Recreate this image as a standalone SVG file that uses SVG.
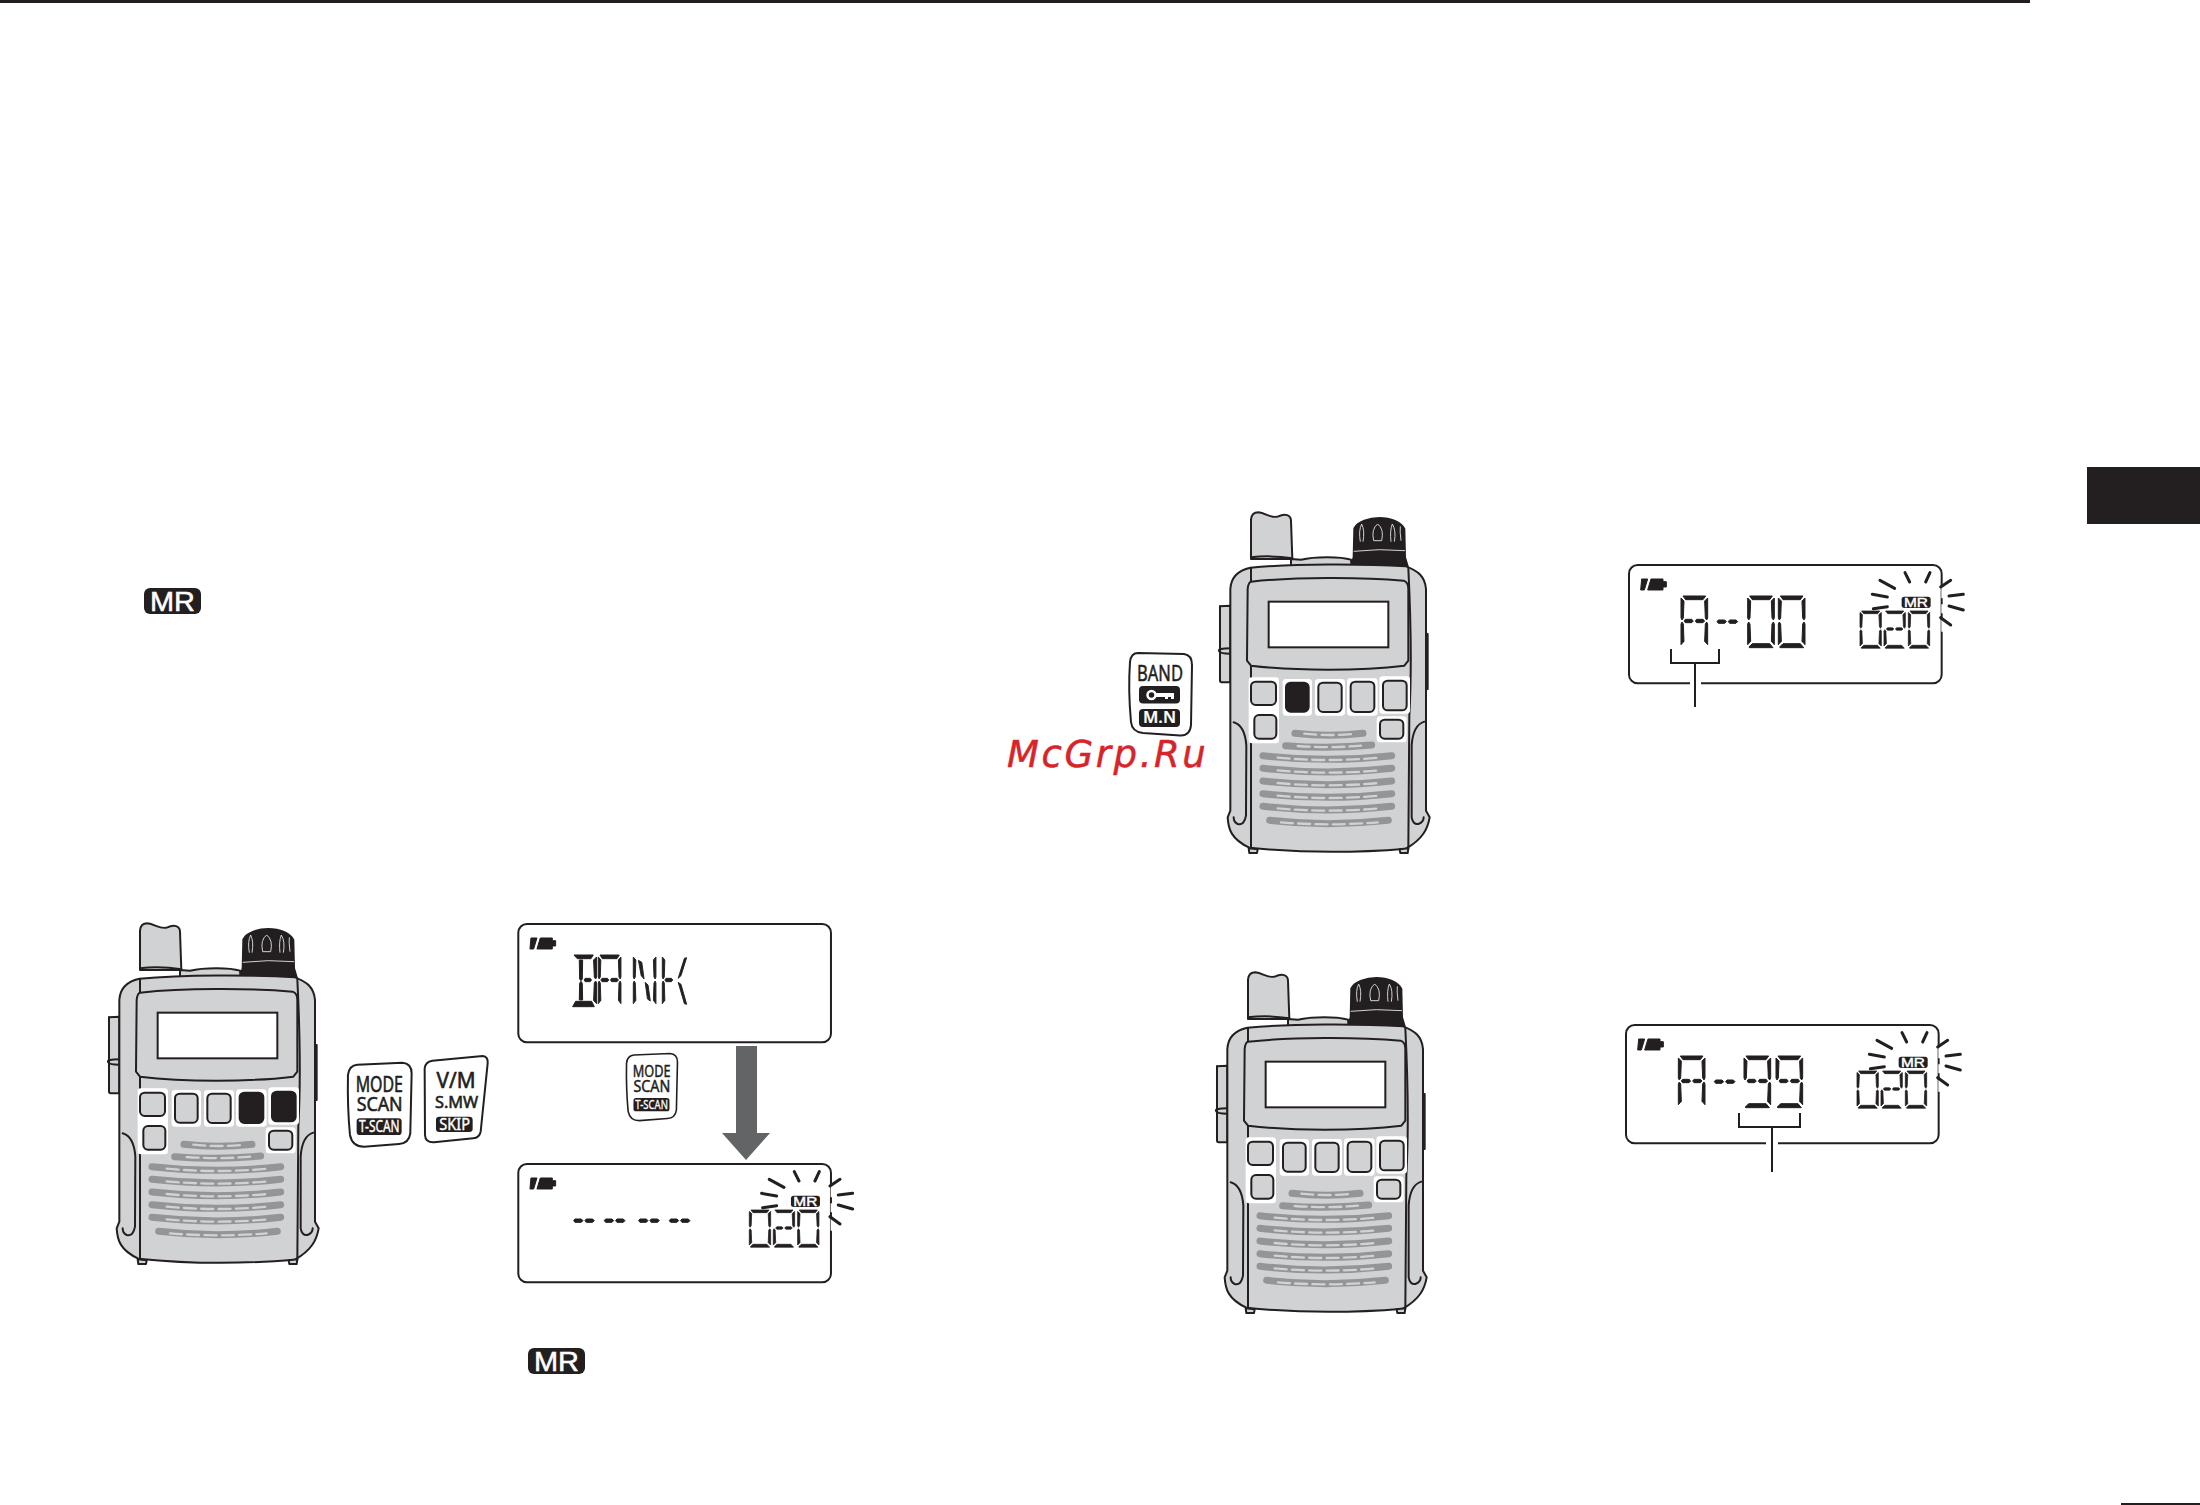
<svg xmlns="http://www.w3.org/2000/svg" xmlns:xlink="http://www.w3.org/1999/xlink" width="2200" height="1505" viewBox="0 0 2200 1505">
<style>
.ln{stroke:#231f20;stroke-width:6;stroke-linejoin:round;stroke-linecap:round}
.bd{fill:#d1d2d4}
.no{fill:none}
.btn{fill:#d1d2d4;stroke:#231f20;stroke-width:6}
.dk{fill:#231f20;stroke:#231f20;stroke-width:6}
.hl{fill:#fff}
.gr1{fill:none;stroke:#939598;stroke-width:21;stroke-linecap:round}
.gr2{fill:none;stroke:#d1d2d4;stroke-width:7;stroke-dasharray:36 16;stroke-linecap:round}
.seg{fill:#231f20;stroke:#231f20;stroke-width:3;stroke-linejoin:round}
.ray{stroke:#231f20;stroke-width:9;stroke-linecap:round;fill:none}
.rayw{stroke:#fff;stroke-width:22;stroke-linecap:butt;fill:none}
.k{font-family:"Noto Sans","Open Sans",sans-serif;fill:#231f20;text-anchor:middle;stroke:#231f20;stroke-width:1.8}
.kw{font-family:"Noto Sans","Open Sans",sans-serif;fill:#fff;text-anchor:middle;stroke:#fff;stroke-width:1.2}
.mr{font-family:"Liberation Sans",Arial,sans-serif;fill:#fff;text-anchor:middle;stroke:#fff;stroke-width:1.2}
.wire{stroke:#231f20;stroke-width:2;fill:none}
</style>
<defs>
<g id="radio-body">
<path class="bd ln" d="M57,352 L88,350 L88,580 L62,580 Q57,580 57,574Z"/>
<path class="no ln" d="M88,478 Q50,478 54,486 Q56,494 88,494 M57,478 L57,352 M57,494 L57,574"/>
<path class="ln" fill="#231f20" d="M676,435 L680,435 L680,600 L676,600Z"/>
<path class="bd ln" d="M150,92 Q152,70 172,70 C195,72 212,90 232,82 C252,72 270,78 270,95 L274,210 L150,210Z"/>
<path class="no ln" d="M150,205 Q210,198 274,208"/>
<path class="bd ln" d="M270,210 L300,212 C340,202 420,202 450,212 L452,232 L270,232Z"/>
<path class="dk" d="M460,118 C470,98 505,87 535,87 C570,87 600,100 610,120 L612,205 L620,232 L450,230 L458,205Z"/>
<path fill="none" stroke="#d1d2d4" stroke-width="3" d="M458,187 Q535,178 612,185 M478,158 Q472,125 482,105 Q492,125 486,158 M518,155 Q510,120 530,105 Q550,120 542,155Z M570,158 Q566,125 574,105 Q586,125 580,158 M600,155 Q596,125 598,112"/>
<path class="bd ln" d="M148,236 C112,244 90,265 88,300 L88,965 L80,985 C82,1020 90,1050 145,1076 C300,1092 460,1092 615,1079 C665,1050 680,1020 686,985 L675,965 L675,300 C672,262 650,245 615,232 C480,224 280,224 148,236Z"/>
<path class="no ln" d="M150,238 L150,1076 M622,238 Q635,500 625,680 L622,1078"/>
<path class="bd ln" d="M150,278 C280,264 480,264 608,275 Q622,280 622,300 L622,515 L610,530 C480,546 280,546 150,530 L138,515 L140,300 Q142,280 150,278Z"/>
<rect x="203" y="338" width="359" height="137" fill="#fff" stroke="#231f20" stroke-width="6"/>
<path class="no ln" d="M98,700 Q132,710 136,770 L135,980 Q130,1010 110,1005 Q98,1000 98,985 M670,698 Q636,708 632,770 L632,985 Q636,1008 652,1005 Q668,1000 668,985"/>
<rect class="hl" x="143" y="565" width="91" height="198" rx="10"/>
<rect class="hl" x="245" y="570" width="88" height="110" rx="10"/>
<rect class="hl" x="342" y="570" width="90" height="110" rx="10"/>
<rect class="hl" x="438" y="568" width="92" height="112" rx="10"/>
<rect class="hl" x="535" y="562" width="92" height="112" rx="10"/>
<rect class="hl" x="527" y="682" width="90" height="78" rx="10"/>
<path class="gr1" d="M282,733 Q384,745 486,733"/><path class="gr2" d="M310,734 Q384,742 462,734"/>
<path class="gr1" d="M254,770 Q384,780 512,768"/><path class="gr2" d="M290,771 Q384,778 480,770"/>
<path class="gr1" d="M186,800 Q380,822 572,800"/><path class="gr2" d="M230,806 Q380,820 535,806"/>
<path class="gr1" d="M186,838 Q380,860 572,838"/><path class="gr2" d="M230,844 Q380,858 535,844"/>
<path class="gr1" d="M186,876 Q380,898 572,876"/><path class="gr2" d="M230,882 Q380,896 535,882"/>
<path class="gr1" d="M186,914 Q380,936 572,914"/><path class="gr2" d="M230,920 Q380,934 535,920"/>
<path class="gr1" d="M186,952 Q380,974 572,952"/><path class="gr2" d="M230,958 Q380,972 535,958"/>
<path class="gr1" d="M206,994 Q380,1014 562,994"/><path class="gr2" d="M240,1000 Q380,1012 530,1000"/>
<path class="bd ln" d="M143,1078 L170,1081 L168,1092 L145,1092Z M596,1081 L622,1078 L620,1092 L598,1092Z"/>
</g>
<rect id="b1" x="150" y="578" width="75" height="70" rx="14"/>
<rect id="b2" x="255" y="581" width="68" height="87" rx="14"/>
<rect id="b3" x="352" y="581" width="70" height="88" rx="14"/>
<rect id="b4" x="449" y="578" width="71" height="91" rx="14"/>
<rect id="b5" x="546" y="575" width="71" height="89" rx="14"/>
<rect id="b6" x="160" y="678" width="66" height="71" rx="14"/>
<rect id="b7" x="537" y="692" width="70" height="57" rx="14"/>

<g id="key-mode">
<path fill="#fff" stroke="#231f20" stroke-width="6" d="M30,4 L165,-2 Q193,0 193,30 L189,210 Q185,240 155,242 L50,250 Q15,250 8,215 Q0,130 2,35 Q5,6 30,4Z"/>
<text class="k" x="96" y="85" font-size="63" textLength="142" lengthAdjust="spacingAndGlyphs">MODE</text>
<text class="k" x="97" y="143" font-size="60" textLength="138" lengthAdjust="spacingAndGlyphs">SCAN</text>
<rect x="28" y="165" width="135" height="50" rx="10" fill="#231f20"/>
<text class="kw" x="96" y="205" font-size="50" textLength="122" lengthAdjust="spacingAndGlyphs">T-SCAN</text>
</g>

<path id="s-a" d="M6,0 L74,0 L66,11 L14,11Z"/>
<path id="s-d" d="M14,143 L66,143 L76,155 L5,155 L4,153Z"/>
<path id="s-f" d="M0,6 L9,15 L7,66 L3,72 L0,66Z"/>
<path id="s-b" d="M80,6 L71,15 L73,66 L77,72 L80,66Z"/>
<path id="s-e" d="M0,84 L3,78 L7,84 L9,136 L0,146Z"/>
<path id="s-c" d="M80,84 L77,78 L73,84 L71,136 L80,146Z"/>
<path id="s-g1" d="M9,75 L13,70 L32,70 L37,75 L32,80 L13,80Z"/>
<path id="s-g2" d="M43,75 L47,70 L66,70 L71,75 L66,80 L47,80Z"/>
<g id="d0" class="seg"><use href="#s-a"/><use href="#s-b"/><use href="#s-c"/><use href="#s-d"/><use href="#s-e"/><use href="#s-f"/></g>
<g id="dA" class="seg"><use href="#s-a"/><use href="#s-b"/><use href="#s-c"/><use href="#s-e"/><use href="#s-f"/><use href="#s-g1"/><use href="#s-g2"/></g>
<g id="d9" class="seg"><use href="#s-a"/><use href="#s-b"/><use href="#s-c"/><use href="#s-d"/><use href="#s-f"/><use href="#s-g1"/><use href="#s-g2"/></g>
<g id="d2" class="seg"><use href="#s-a"/><use href="#s-b"/><use href="#s-d"/><use href="#s-e"/><use href="#s-g1"/><use href="#s-g2"/></g>
<g id="dd" class="seg"><use href="#s-g1"/><use href="#s-g2"/></g>

<g id="panel">
<rect x="0" y="0" width="938" height="355" rx="26" fill="#fff" stroke="#231f20" stroke-width="6"/>
<path class="seg" d="M38,42 L56,42 L46,75 L35,75Z M66,42 L102,42 L102,50 L112,50 L112,66 L102,66 L102,75 L56,75Z"/>
</g>
<g id="blink">
<path class="rayw" d="M948,60 L948,100 M948,118 L948,145 M948,160 L948,200"/>
<g class="ray"><path d="M730,88 L775,96 M733,131 L775,125 M753,46 L797,70 M828,23 L842,51 M903,23 L890,51 M935,66 L965,46 M960,93 L1003,88 M960,123 L1003,135 M935,158 L965,180"/></g>
<rect x="818" y="95" width="87" height="34" rx="8" fill="#231f20"/>
<text class="mr" x="861" y="125" font-size="36" textLength="72" lengthAdjust="spacingAndGlyphs">MR</text>
<use href="#d0" transform="translate(693,138) scale(.8,.72)"/>
<use href="#d2" transform="translate(765,138) scale(.8,.72)"/>
<use href="#d0" transform="translate(838,138) scale(.8,.72)"/>
</g>
</defs>

<rect width="2200" height="1505" fill="#fff"/>
<rect id="top-rule" x="0" y="0" width="2030" height="3" fill="#231f20"/>
<rect id="side-tab" x="2087" y="467" width="113" height="57" fill="#231f20"/>
<rect id="bottom-rule" x="2121" y="1503" width="79" height="2" fill="#231f20"/>

<g id="mr-badge-1"><rect x="144" y="588" width="57" height="26" rx="6" fill="#231f20"/><text class="mr" x="172.500" y="611" font-size="27" textLength="45" lengthAdjust="spacingAndGlyphs" style="stroke-width:.5">MR</text></g>
<g id="mr-badge-2"><rect x="528" y="1348" width="57" height="26" rx="6" fill="#231f20"/><text class="mr" x="556.500" y="1371" font-size="27" textLength="45" lengthAdjust="spacingAndGlyphs" style="stroke-width:.5">MR</text></g>

<g id="radio-1" transform="translate(90,900) scale(.33333)">
<use href="#radio-body"/>
<use href="#b1" class="btn"/><use href="#b2" class="btn"/><use href="#b3" class="btn"/><use href="#b4" class="dk"/><use href="#b5" class="dk"/><use href="#b6" class="btn"/><use href="#b7" class="btn"/>
</g>
<g id="radio-2" transform="translate(1201,489) scale(.33333)">
<use href="#radio-body"/>
<use href="#b1" class="btn"/><use href="#b2" class="dk"/><use href="#b3" class="btn"/><use href="#b4" class="btn"/><use href="#b5" class="btn"/><use href="#b6" class="btn"/><use href="#b7" class="btn"/>
</g>
<g id="radio-3" transform="translate(1198,949) scale(.33333)">
<use href="#radio-body"/>
<use href="#b1" class="btn"/><use href="#b2" class="btn"/><use href="#b3" class="btn"/><use href="#b4" class="btn"/><use href="#b5" class="btn"/><use href="#b6" class="btn"/><use href="#b7" class="btn"/>
</g>

<g id="key-mode-1" transform="translate(347.300,1063.300) scale(.33333)"><use href="#key-mode"/></g>
<g id="key-vm" transform="translate(90,900) scale(.33333)">
<path fill="#fff" stroke="#231f20" stroke-width="6" d="M1027,482 L1178,468 Q1195,470 1193,490 L1172,695 Q1168,713 1150,715 L1032,727 Q1006,728 1005,705 L1004,505 Q1006,485 1027,482Z"/>
<text class="k" x="1098" y="565" font-size="63" textLength="117" lengthAdjust="spacingAndGlyphs">V/M</text>
<text class="k" x="1100" y="625" font-size="50" textLength="130" lengthAdjust="spacingAndGlyphs">S.MW</text>
<rect x="1038" y="650" width="110" height="46" rx="10" fill="#231f20"/>
<text class="kw" x="1094" y="689" font-size="48" textLength="92" lengthAdjust="spacingAndGlyphs">SKIP</text>
</g>
<g id="key-mode-2" transform="translate(626,1054) scale(.26667)"><use href="#key-mode"/></g>

<g id="key-band">
<path fill="#fff" stroke="#231f20" stroke-width="2" d="M1138,653 L1184,654 Q1192,655 1192,665 L1191,725 Q1190,736 1180,735.500 L1143,733 Q1132,732 1131,722 Q1128,690 1130,662 Q1131,653 1138,653Z"/>
<text class="k" x="1160" y="680.500" font-size="21" textLength="46" lengthAdjust="spacingAndGlyphs" style="stroke-width:.5">BAND</text>
<rect x="1139" y="686" width="41" height="17.500" rx="4" fill="#231f20"/>
<circle cx="1151.500" cy="695" r="4" fill="none" stroke="#fff" stroke-width="2.500"/>
<path fill="#fff" d="M1155,693 L1174,693 L1174,699 L1171,699 L1171,697 L1168,697 L1168,699 L1165,699 L1165,697 L1155,697Z"/>
<rect x="1139" y="709" width="41" height="18" rx="4" fill="#231f20"/>
<text class="kw" x="1159.500" y="723" font-size="16" font-weight="600" textLength="33" lengthAdjust="spacingAndGlyphs" style="stroke-width:.2">M.N</text>
</g>

<g id="lcd-bank" transform="translate(518.300,924) scale(.33333)">
<use href="#panel"/>
<g class="seg">
<path d="M167,93 L225,93 L218,104 L177,104Z M163,248 L228,248 L220,232 L172,232Z M183,108 L193,108 L192,165 L188,170 L184,165Z M184,178 L188,172 L192,178 L193,228 L183,228Z"/>
<use href="#s-b" transform="translate(155,93)"/><use href="#s-c" transform="translate(155,93)"/><use href="#s-g2" transform="translate(163,93) scale(.8,1)"/>
</g>
<use href="#dA" transform="translate(240,93) scale(.85,1)"/>
<g class="seg" transform="translate(345,93) scale(.85,1)"><use href="#s-f"/><use href="#s-e"/><use href="#s-b"/><use href="#s-c"/><path d="M18,16 L30,22 L38,72 L28,62Z M42,82 L52,90 L60,138 L50,132Z"/></g>
<g class="seg" transform="translate(432,93) scale(.85,1)"><use href="#s-f"/><use href="#s-e"/><use href="#s-g1"/><path d="M78,10 L86,8 L66,62 L56,70Z M56,82 L66,88 L86,148 L78,146Z"/></g>
</g>
<g id="lcd-dashes" transform="translate(518.300,1164) scale(.33333)">
<use href="#panel"/>
<use href="#dd" transform="translate(157,95)"/><use href="#dd" transform="translate(249,95)"/><use href="#dd" transform="translate(352,95)"/><use href="#dd" transform="translate(444,95)"/>
<use href="#blink"/>
</g>
<g id="lcd-a00" transform="translate(1629,565) scale(.33333)">
<use href="#panel"/>
<use href="#dA" transform="translate(156,93)"/><use href="#dd" transform="translate(255,95)"/><use href="#d0" transform="translate(356,93)"/><use href="#d0" transform="translate(448,93)"/>
<use href="#blink"/>
</g>
<g id="lcd-a99" transform="translate(1626,1025) scale(.33333)">
<use href="#panel"/>
<use href="#dA" transform="translate(157,93)"/><use href="#dd" transform="translate(256,95)"/><use href="#d9" transform="translate(354,93)"/><use href="#d9" transform="translate(450,93)"/>
<use href="#blink"/>
</g>

<g id="connectors">
<path fill="#636466" d="M736,1046 L757,1046 L757,1133 L770,1133 L746,1160 L722,1133 L736,1133Z"/>
<rect x="1690" y="680" width="11" height="6" fill="#fff"/>
<path class="wire" d="M1671,649 L1671,663 L1719,663 L1719,649 M1695,663 L1695,707"/>
<rect x="1766" y="1140" width="12" height="6" fill="#fff"/>
<path class="wire" d="M1739,1113 L1739,1127 L1800,1127 L1800,1113 M1772,1127 L1772,1172"/>
</g>

<text id="watermark" x="1007" y="767" font-family="DejaVu Sans,sans-serif" font-style="italic" font-size="37" letter-spacing="2.600" fill="#d7242a" stroke="#d7242a" stroke-width=".5">McGrp.Ru</text>
</svg>
